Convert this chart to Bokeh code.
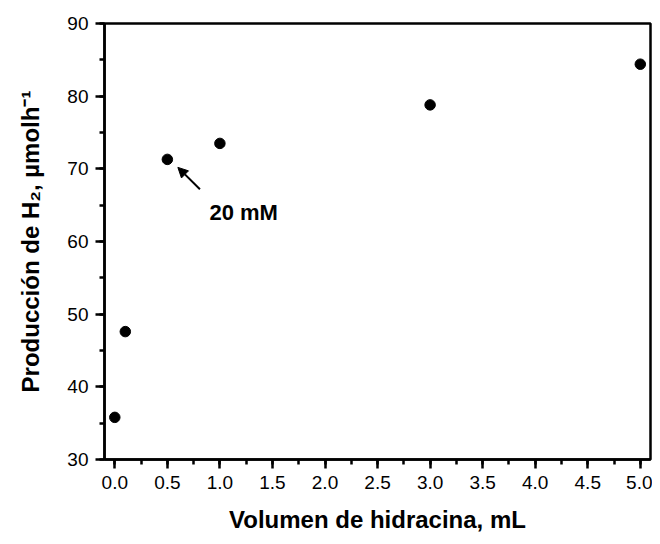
from bokeh.plotting import figure
from bokeh.models import (Range1d, SingleIntervalTicker, NumeralTickFormatter, Label, Arrow, NormalHead)
from bokeh.embed import file_html
from bokeh.resources import INLINE

# data
volumen = [0.0, 0.1, 0.5, 1.0, 3.0, 5.0]
produccion = [35.8, 47.6, 71.3, 73.5, 78.8, 84.4]

# annotation
note_text = "20 mM"
note_pos = (0.90, 64.0)
arrow_tail = (0.81, 67.2)
arrow_head = (0.60, 70.2)

x_title = "Volumen de hidracina, mL"
y_title = "Producción de H\u2082, µmolh\u207b\u00b9"

FONT = "Liberation Sans"

p = figure(width=652, height=536, output_backend="svg", toolbar_location=None,
           x_range=Range1d(-0.098, 5.097), y_range=Range1d(30, 90),
           min_border_left=104, min_border_right=2, min_border_top=23, min_border_bottom=77)
p.grid.visible = False
p.background_fill_color = "white"
p.border_fill_color = "white"
p.outline_line_color = "black"
p.outline_line_width = 2.5
p.outline_line_alpha = 1.0

p.scatter(volumen, produccion, size=10.5, color="black")

for ax in (p.xaxis[0], p.yaxis[0]):
    ax.axis_line_width = 2.5
    ax.major_tick_line_width = 2.5
    ax.minor_tick_line_width = 2.5
    ax.major_tick_out = 9
    ax.major_tick_in = 0
    ax.minor_tick_out = 5
    ax.minor_tick_in = 0
    ax.major_label_text_font = FONT
    ax.major_label_text_font_size = "19px"
    ax.major_label_text_color = "black"
    ax.major_label_standoff = 7
    ax.axis_label_text_font = FONT
    ax.axis_label_text_font_style = "bold"
    ax.axis_label_text_font_size = "24px"
    ax.axis_label_text_color = "black"

p.xaxis[0].ticker = SingleIntervalTicker(interval=0.5, num_minor_ticks=2)
p.xaxis[0].formatter = NumeralTickFormatter(format="0.0")
p.yaxis[0].ticker = SingleIntervalTicker(interval=10, num_minor_ticks=2)

p.xaxis[0].axis_label = x_title
p.xaxis[0].axis_label_standoff = 14
p.yaxis[0].axis_label = y_title
p.yaxis[0].axis_label_standoff = 20

p.add_layout(Label(x=note_pos[0], y=note_pos[1], text=note_text, text_font=FONT,
                   text_font_style="bold", text_font_size="22px", text_baseline="alphabetic",
                   text_color="black"))
p.add_layout(Arrow(x_start=arrow_tail[0], y_start=arrow_tail[1], x_end=arrow_head[0], y_end=arrow_head[1],
                   line_width=2, line_color="black",
                   end=NormalHead(size=10, fill_color="black", line_color="black", line_width=1)))

open("out.html", "w").write(file_html(p, INLINE))
